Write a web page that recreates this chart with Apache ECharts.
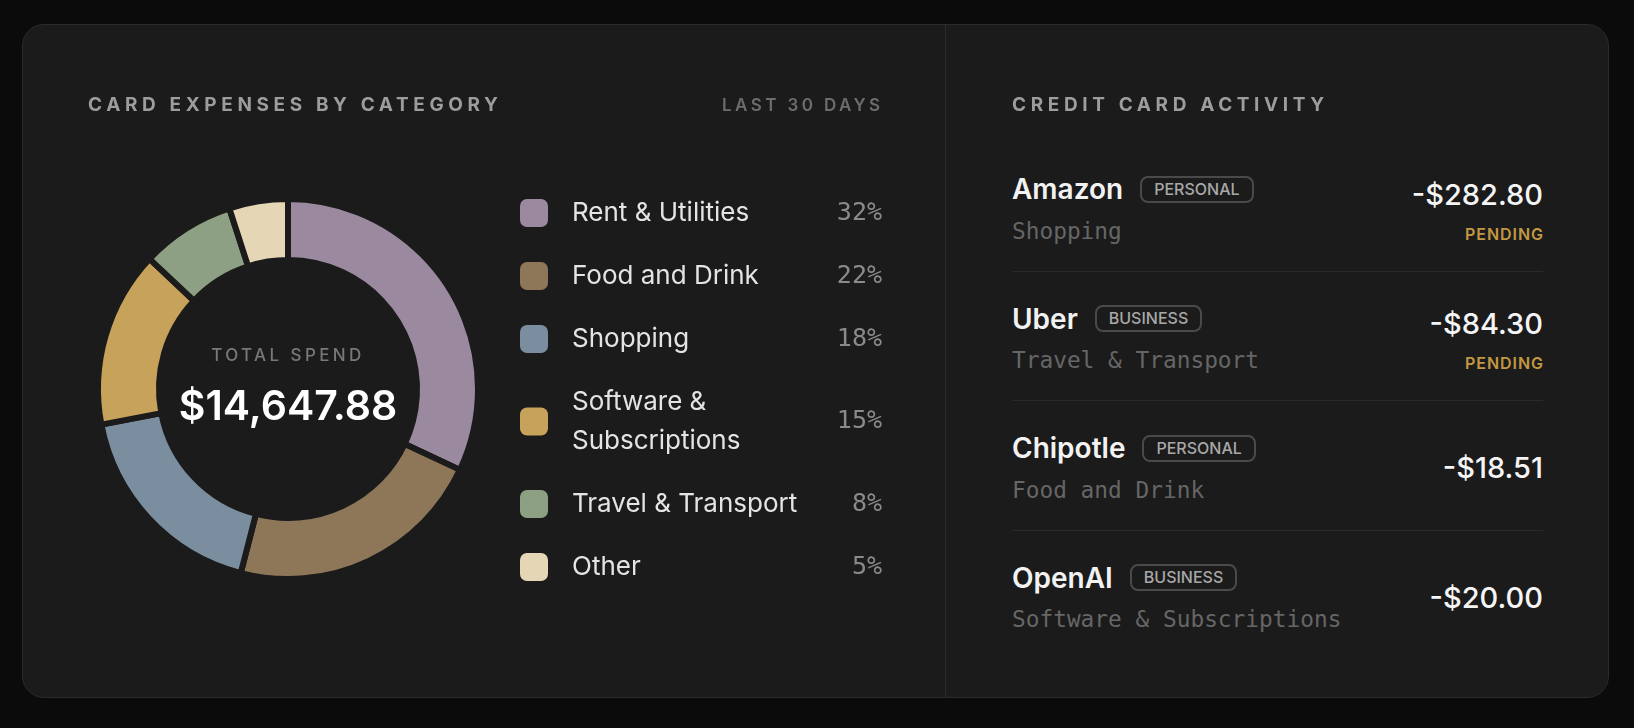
<!DOCTYPE html>
<html>
<head>
    <meta charset="UTF-8">
    <title>card expenses</title>
    <script src="https://cdn.jsdelivr.net/npm/echarts@6/dist/echarts.min.js"></script>
    <style>
        *{margin:0;padding:0;box-sizing:border-box}
        html, body{
            width:1634px;
            height:728px;
            background:#0b0b0b;
            overflow:hidden;
            font-family:Inter, "Noto Sans", sans-serif;
        }
        .card {
            position:absolute;
            left:22px; top:24px;
            width:1587px; height:674px;
            background:#1b1b1b;
            border:1px solid #2b2b2b;
            border-radius:22px;
        }
        .divider {
            position:absolute;
            left:945px; top:25px;
            width:1px; height:672px;
            background:#2b2b2b;
        }
        #main {
            position:absolute;
            left:0; top:0;
            width:946px; height:728px;
            z-index:1;
        }
        .abs { position:absolute; z-index:2; white-space:nowrap; }
        .caption {
            font-size:19px;
            font-weight:700;
            letter-spacing:0.243em;
            color:#9d9d9d;
            line-height:24px;
        }
        .range {
            font-size:17px;
            font-weight:600;
            letter-spacing:0.2em;
            color:#6c6c6c;
            line-height:24px;
        }
        .total-lbl {
            font-size:17px;
            font-weight:500;
            letter-spacing:0.2em;
            color:#787878;
            line-height:24px;
            text-align:center;
            width:300px;
        }
        .name-row { display:flex; align-items:center; gap:17px; height:34px; }
        .merchant { font-size:28px; font-weight:600; color:#f2f2f2; line-height:34px; }
        .tag {
            height:27px;
            line-height:23px;
            padding:0 12px;
            border:2px solid #4a4a4a;
            border-radius:8px;
            font-size:16px;
            font-weight:500;
            color:#a8a8a8;
        }
        .cat {
            font-family:"DejaVu Sans Mono", "Liberation Mono", monospace;
            font-size:22.8px;
            color:#666;
            line-height:30px;
        }
        .amt { font-size:29px; font-weight:500; color:#f5f5f5; line-height:40px; text-align:right; }
        .pending { font-size:16px; font-weight:600; letter-spacing:0.06em; color:#c29843; line-height:24px; text-align:right; }
        .sep { position:absolute; height:1px; background:#2a2a2a; z-index:2; }
    </style>
</head>
<body>
    <div class="card"></div>
    <div class="divider"></div>
    <div id="main"></div>
    <div class="abs caption" style="left:88px;top:93px;">CARD EXPENSES BY CATEGORY</div>
    <div class="abs range" style="right:754px;top:93px;margin-right:-3.4px;">LAST 30 DAYS</div>
    <div class="abs total-lbl" style="left:138px;top:343px;">TOTAL SPEND</div>
    <div class="abs caption" style="left:1012px;top:93px;">CREDIT CARD ACTIVITY</div>
    <div id="activity"></div>
    <script type="text/javascript">
        // spend by category, percent of total
        var categories = ['Rent & Utilities', 'Food and Drink', 'Shopping', 'Software & Subscriptions', 'Travel & Transport', 'Other'];
        var shares = [32, 22, 18, 15, 8, 5];
        var palette = ['#9b89a0', '#8e7658', '#7b8ea0', '#c7a25a', '#8da083', '#e5d6b6'];
        var totalSpend = 14647.88;

        // recent card activity
        var merchants = ['Amazon', 'Uber', 'Chipotle', 'OpenAI'];
        var accounts = ['PERSONAL', 'BUSINESS', 'PERSONAL', 'BUSINESS'];
        var txCategories = ['Shopping', 'Travel & Transport', 'Food and Drink', 'Software & Subscriptions'];
        var amounts = [-282.80, -84.30, -18.51, -20.00];
        var isPending = [true, true, false, false];

        function money (v) {
            var s = Math.abs(v).toLocaleString('en-US', {minimumFractionDigits: 2, maximumFractionDigits: 2});
            return (v < 0 ? '-$' : '$') + s;
        }
        function wrapName (name) {
            // long names go on two lines after the ampersand
            return name.length > 20 ? name.replace('& ', '&\n') : name;
        }

        var myChart = echarts.init(document.getElementById('main'), null, {renderer: 'canvas'});
        var pieData = categories.map(function (c, i) {
            return {name: c, value: shares[i], itemStyle: {color: palette[i]}};
        });

        var option = {
            animation: false,
            backgroundColor: 'transparent',
            legend: [
                {
                    orient: 'vertical',
                    left: 520,
                    top: 193.5,
                    padding: 0,
                    itemWidth: 28,
                    itemHeight: 28,
                    itemGap: 24,
                    icon: 'roundRect',
                    selectedMode: false,
                    itemStyle: {borderWidth: 0},
                    data: categories,
                    formatter: wrapName,
                    textStyle: {
                        color: '#e4e4e4',
                        fontFamily: 'Inter',
                        fontSize: 26,
                        lineHeight: 39,
                        padding: [0, 0, 0, 19]
                    }
                },
                {
                    orient: 'vertical',
                    right: 59,
                    top: 193.5,
                    padding: 0,
                    align: 'right',
                    itemWidth: 0,
                    itemHeight: 28,
                    itemGap: 24,
                    icon: 'none',
                    selectedMode: false,
                    data: categories,
                    formatter: function (name) {
                        var i = categories.indexOf(name);
                        var txt = shares[i] + '%';
                        return wrapName(name).indexOf('\n') >= 0 ? '{tall|' + txt + '}' : txt;
                    },
                    textStyle: {
                        color: '#8a8a8a',
                        fontFamily: 'DejaVu Sans Mono',
                        fontSize: 25,
                        lineHeight: 39,
                        rich: {
                            tall: {color: '#8a8a8a', fontFamily: 'DejaVu Sans Mono', fontSize: 25, lineHeight: 78}
                        }
                    }
                }
            ],
            graphic: [
                {
                    type: 'text',
                    x: 288,
                    y: 408,
                    style: {
                        text: money(totalSpend),
                        fill: '#ffffff',
                        font: '600 41px Inter',
                        align: 'center',
                        verticalAlign: 'middle'
                    }
                }
            ],
            series: [
                {
                    name: 'Spend',
                    type: 'pie',
                    center: [288, 389],
                    radius: [129, 190],
                    startAngle: 90,
                    silent: true,
                    label: {show: false},
                    labelLine: {show: false},
                    itemStyle: {borderColor: '#1b1b1b', borderWidth: 6},
                    data: pieData
                }
            ]
        };
        myChart.setOption(option);

        // activity list on the right
        var box = document.getElementById('activity');
        var html = '';
        merchants.forEach(function (m, i) {
            var y0 = 189.3 + 129.4 * i;
            html += '<div class="abs name-row" style="left:1012px;top:' + (y0 - 17) + 'px;">' +
                '<span class="merchant">' + m + '</span><span class="tag">' + accounts[i] + '</span></div>';
            html += '<div class="abs cat" style="left:1012px;top:' + (y0 + 41.5 - 15) + 'px;">' +
                txCategories[i].replace(/&/g, '&amp;') + '</div>';
            var amtY = isPending[i] ? y0 + 5.4 : y0 + 20;
            html += '<div class="abs amt" style="right:91px;top:' + (amtY - 20) + 'px;">' + money(amounts[i]) + '</div>';
            if (isPending[i]) {
                html += '<div class="abs pending" style="right:90px;top:' + (y0 + 44.7 - 12) + 'px;">PENDING</div>';
            }
            if (i < merchants.length - 1) {
                html += '<div class="sep" style="left:1012px;width:531px;top:' + Math.round(y0 + 81.7) + 'px;"></div>';
            }
        });
        box.innerHTML = html;
    </script>
</body>
</html>
